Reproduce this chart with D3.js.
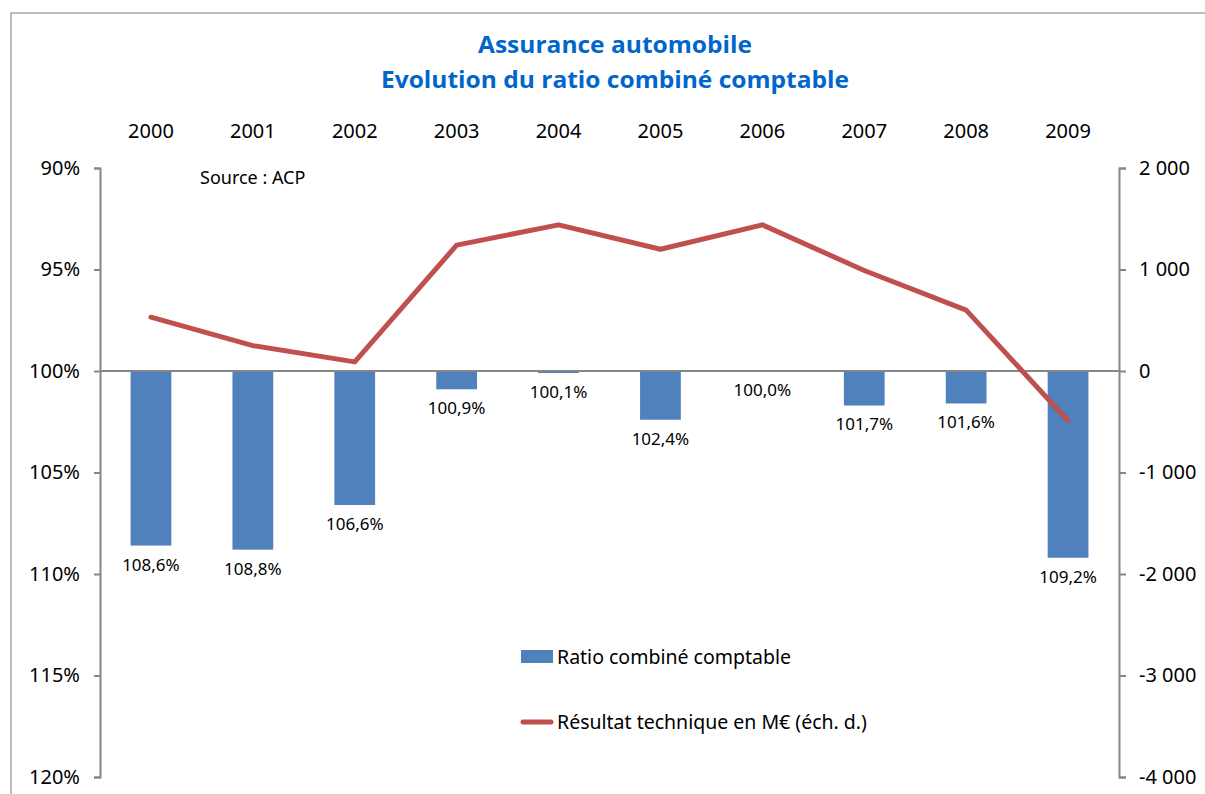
<!DOCTYPE html>
<html>
<head>
<meta charset="utf-8">
<script src="https://cdn.jsdelivr.net/npm/d3@7"></script>
<style>
  body { margin: 0; background: #fff; }
  text { font-family: "Noto Sans", "Open Sans", sans-serif; }
</style>
</head>
<body>
<script>
// annees, ratio combine (%) et resultat technique (M€)
var years = ["2000", "2001", "2002", "2003", "2004", "2005", "2006", "2007", "2008", "2009"];
var ratio = [108.6, 108.8, 106.6, 100.9, 100.1, 102.4, 100.0, 101.7, 101.6, 109.2];
var resultat = [530, 250, 90, 1240, 1440, 1200, 1440, 990, 600, -490];
var leftTicks = [90, 95, 100, 105, 110, 115, 120];
var rightTicks = [2000, 1000, 0, -1000, -2000, -3000, -4000];

var width = 1205;
var height = 794;
var margin = {top: 168, right: 86, bottom: 17, left: 100};

var svg = d3.select("body")
  .append("svg")
  .attr("width", width)
  .attr("height", height);

// cadre du graphique
svg.append("rect")
  .attr("x", 11)
  .attr("y", 13)
  .attr("width", width + 20)
  .attr("height", height + 20)
  .attr("fill", "none")
  .attr("stroke", "#a6a6a6")
  .attr("stroke-width", 1.5);

var innerW = width - margin.left - margin.right;
var innerH = height - margin.top - margin.bottom;

var g = svg.append("g")
  .attr("transform", "translate(" + margin.left + "," + margin.top + ")");

var x = d3.scaleBand()
  .domain(years)
  .range([0, innerW])
  .paddingInner(0.6)
  .paddingOuter(0.3);

var y = d3.scaleLinear()
  .domain([90, 120])
  .range([0, innerH]);

var y2 = d3.scaleLinear()
  .domain([2000, -4000])
  .range([0, innerH]);

var fr = d3.formatLocale({decimal: ",", thousands: " ", grouping: [3], currency: ["", " €"], minus: "-"});
var fmtThousands = fr.format(",d");

// titre
var titles = [
  {t: "Assurance automobile", y: 53, len: 274},
  {t: "Evolution du ratio combiné comptable", y: 88, len: 468}
];
svg.selectAll(".title")
  .data(titles)
  .enter()
  .append("text")
  .attr("class", "title")
  .attr("x", 615)
  .attr("y", function(d) { return d.y; })
  .attr("text-anchor", "middle")
  .attr("textLength", function(d) { return d.len; })
  .attr("lengthAdjust", "spacingAndGlyphs")
  .style("font-family", "'Open Sans', sans-serif")
  .style("font-weight", "bold")
  .style("font-size", "24px")
  .attr("fill", "#0066cc")
  .text(function(d) { return d.t; });

// annees en haut
var topAxis = g.append("g")
  .attr("transform", "translate(0," + (-18) + ")")
  .call(d3.axisTop(x).tickSize(0).tickPadding(12));
topAxis.select(".domain").remove();
topAxis.selectAll("text")
  .style("font-size", "20px")
  .attr("fill", "#000");

// barres
g.selectAll(".bar")
  .data(ratio)
  .enter()
  .append("rect")
  .attr("class", "bar")
  .attr("x", function(d, i) { return x(years[i]); })
  .attr("y", y(100))
  .attr("width", x.bandwidth())
  .attr("height", function(d) { return y(d) - y(100); })
  .attr("fill", "#4f81bd");

// etiquettes des barres
g.selectAll(".lbl")
  .data(ratio)
  .enter()
  .append("text")
  .attr("class", "lbl")
  .attr("x", function(d, i) { return x(years[i]) + x.bandwidth() / 2; })
  .attr("y", function(d) { return y(d) + 19; })
  .attr("dy", "0.35em")
  .attr("text-anchor", "middle")
  .style("font-size", "17px")
  .attr("fill", "#000")
  .text(function(d) { return d.toFixed(1).replace(".", ",") + "%"; });

// axe horizontal a 100%
g.append("line")
  .attr("x1", 0)
  .attr("x2", innerW)
  .attr("y1", y(100))
  .attr("y2", y(100))
  .attr("stroke", "#868686")
  .attr("stroke-width", 2);

// axe gauche
var leftAxis = g.append("g")
  .call(d3.axisLeft(y).tickValues(leftTicks).tickSize(6).tickPadding(14)
    .tickFormat(function(d) { return d + "%"; }));
leftAxis.selectAll("path, line").attr("stroke", "#868686").attr("stroke-width", 2);
leftAxis.selectAll("text").style("font-size", "20px").attr("fill", "#000");

// axe droit
var rightAxis = g.append("g")
  .attr("transform", "translate(" + innerW + ",0)")
  .call(d3.axisRight(y2).tickValues(rightTicks).tickSize(7).tickPadding(13)
    .tickFormat(fmtThousands));
rightAxis.selectAll("path, line").attr("stroke", "#868686").attr("stroke-width", 2);
rightAxis.selectAll("text").style("font-size", "20px").attr("fill", "#000");

// courbe du resultat technique
var line = d3.line()
  .x(function(d, i) { return x(years[i]) + x.bandwidth() / 2; })
  .y(function(d) { return y2(d); });

g.append("path")
  .datum(resultat)
  .attr("d", line)
  .attr("fill", "none")
  .attr("stroke", "#c0504d")
  .attr("stroke-width", 5)
  .attr("stroke-linejoin", "round")
  .attr("stroke-linecap", "round");

// source
svg.append("text")
  .attr("x", 200)
  .attr("y", 178)
  .attr("dy", "0.35em")
  .style("font-size", "18px")
  .attr("fill", "#000")
  .text("Source : ACP");

// legende
var legend = svg.append("g");
legend.append("rect")
  .attr("x", 521)
  .attr("y", 650)
  .attr("width", 32)
  .attr("height", 13)
  .attr("fill", "#4f81bd");
legend.append("text")
  .attr("x", 557)
  .attr("y", 657)
  .attr("dy", "0.35em")
  .style("font-size", "19.5px")
  .attr("fill", "#000")
  .text("Ratio combiné comptable");
legend.append("line")
  .attr("x1", 523)
  .attr("x2", 551)
  .attr("y1", 722)
  .attr("y2", 722)
  .attr("stroke", "#c0504d")
  .attr("stroke-width", 5)
  .attr("stroke-linecap", "round");
legend.append("text")
  .attr("x", 557)
  .attr("y", 722)
  .attr("dy", "0.35em")
  .style("font-size", "19.5px")
  .attr("fill", "#000")
  .text("Résultat technique en M€ (éch. d.)");
</script>
</body>
</html>
